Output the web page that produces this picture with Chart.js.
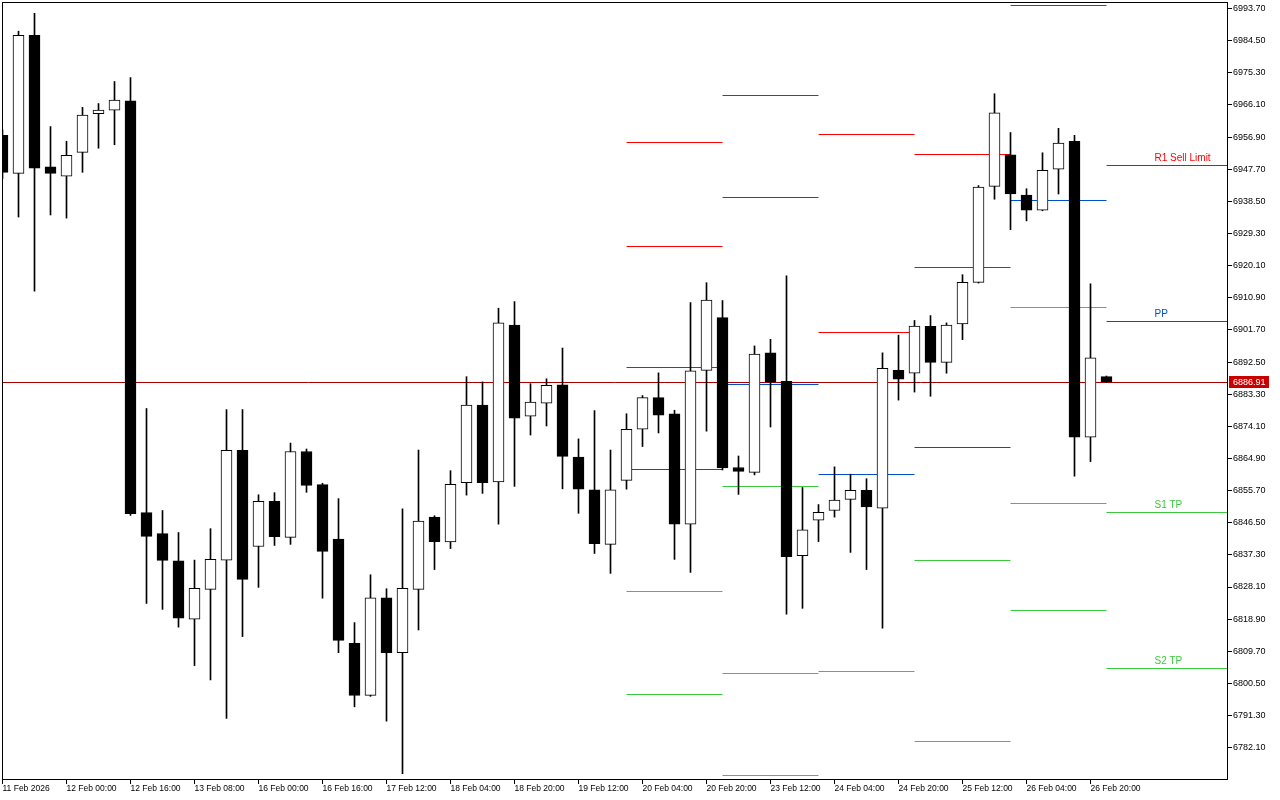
<!DOCTYPE html>
<html><head><meta charset="utf-8">
<script src="https://cdn.jsdelivr.net/npm/chart.js@4.4.1/dist/chart.umd.min.js"></script>
<style>html,body{margin:0;padding:0;background:#fff;overflow:hidden}#wrap{width:1280px;height:800px}</style>
</head><body><div id="wrap"><canvas id="c" width="1280" height="800"></canvas></div>
<script>
// ---- data ----
const xLabels = ['11 Feb 2026','12 Feb 00:00','12 Feb 16:00','13 Feb 08:00','16 Feb 00:00','16 Feb 16:00','17 Feb 12:00','18 Feb 04:00','18 Feb 20:00','19 Feb 12:00','20 Feb 04:00','20 Feb 20:00','23 Feb 12:00','24 Feb 04:00','24 Feb 20:00','25 Feb 12:00','26 Feb 04:00','26 Feb 20:00'];
const yTicks = [6782.10,6791.30,6800.50,6809.70,6818.90,6828.10,6837.30,6846.50,6855.70,6864.90,6874.10,6883.30,6892.50,6901.70,6910.90,6920.10,6929.30,6938.50,6947.70,6956.90,6966.10,6975.30,6984.50,6993.70];
const opens  = [6957.4,6946.5,6986.0,6948.4,6945.7,6952.5,6963.6,6964.6,6967.3,6849.4,6843.4,6835.6,6818.9,6827.4,6835.8,6867.2,6839.7,6852.6,6842.3,6866.9,6857.4,6841.8,6812.0,6797.1,6825.0,6809.3,6827.4,6848.1,6841.0,6858.0,6880.2,6858.2,6903.1,6877.0,6880.7,6886.0,6865.3,6855.9,6840.3,6858.6,6873.3,6882.3,6877.7,6846.1,6890.1,6905.2,6862.3,6860.9,6895.1,6887.0,6837.1,6847.2,6850.0,6853.2,6855.8,6850.7,6890.1,6889.3,6902.7,6892.4,6903.4,6915.3,6942.8,6951.8,6940.3,6936.0,6947.7,6955.7,6871.0,6888.3];
const highs  = [6959.0,6987.2,6992.3,6959.9,6955.7,6965.4,6966.5,6972.8,6973.9,6879.2,6850.0,6843.7,6835.8,6844.8,6878.9,6878.9,6854.5,6855.1,6869.3,6867.6,6857.8,6853.4,6817.9,6831.6,6827.6,6850.5,6867.3,6848.5,6861.4,6888.3,6886.8,6907.9,6909.8,6886.3,6887.7,6896.5,6870.5,6878.6,6867.3,6877.7,6882.9,6889.4,6878.7,6909.5,6915.2,6910.1,6865.6,6897.1,6899.0,6917.2,6856.6,6851.7,6862.5,6860.4,6859.1,6895.1,6900.2,6904.4,6905.8,6903.7,6917.5,6943.0,6969.3,6958.2,6942.1,6952.4,6959.4,6957.4,6914.9,6888.5];
const lows   = [6945.0,6934.0,6912.8,6934.6,6933.7,6946.8,6953.7,6954.7,6848.6,6823.4,6821.7,6816.6,6805.6,6801.5,6790.5,6813.9,6828.0,6840.0,6840.3,6855.2,6824.9,6809.3,6793.8,6796.8,6789.7,6774.7,6815.8,6833.1,6839.1,6854.4,6854.9,6846.1,6856.9,6871.6,6874.2,6856.2,6849.2,6837.7,6832.0,6856.1,6868.3,6872.2,6836.0,6832.3,6872.7,6861.6,6854.6,6860.2,6873.9,6820.3,6822.0,6841.1,6848.1,6838.0,6833.1,6816.3,6881.6,6883.9,6882.7,6889.3,6898.9,6915.1,6939.1,6930.4,6932.9,6935.8,6940.6,6859.8,6864.0,6886.6];
const closes = [6946.8,6986.0,6948.0,6946.5,6951.7,6963.2,6964.6,6967.5,6849.1,6842.6,6835.7,6819.2,6827.7,6836.0,6867.2,6830.3,6852.6,6842.5,6866.9,6857.2,6838.3,6812.8,6797.1,6825.0,6809.3,6827.7,6847.0,6841.1,6857.5,6880.2,6858.0,6903.7,6876.4,6881.0,6885.8,6865.5,6856.1,6840.5,6855.9,6873.2,6882.3,6877.3,6846.1,6890.0,6910.2,6862.2,6861.2,6894.8,6886.7,6836.8,6844.5,6849.5,6853.0,6855.8,6851.0,6890.7,6887.6,6902.8,6892.4,6903.1,6915.3,6942.6,6963.8,6940.6,6936.0,6947.4,6955.2,6871.0,6893.7,6886.91];
// daily pivot levels (segments start/end at candle index)
const daySegStart = [39,45,51,57,63,69];
const daySegEnd   = [45,51,57,63,69,77];
const rLevels  = [[6955.4,6925.7,6890.8],[6968.8,6939.6],[6957.7,6901.0],[6951.9,6919.6],[6994.6],[6948.7]];
const ppLevels = [6861.6,6886.0,6860.4,6868.0,6938.7,6904.2];
const sLevels  = [[6826.7,6797.2],[6856.8,6803.2,6774.0],[6803.9],[6835.7,6783.8],[6908.1,6851.9,6821.3],[6849.4,6804.9]];
const levelLabels = ['R1 Sell Limit','PP','S1 TP','S2 TP'];

// ---- styles ----
const RED='#ff0000', BLUE='#0050cc', GREEN='#3cc83c';
const YFONT = {family:"'Liberation Sans',sans-serif", size:9};
const XFONT = {family:"'Liberation Sans',sans-serif", size:8.5};
const X_MIN = -0.03125, X_MAX = 76.53125, Y_MIN = 6773.14, Y_MAX = 6995.56;

const idx = opens.map((_,i)=>i);
const bull = idx.map(i => closes[i] > opens[i]);

const datasets = [];
datasets.push({
  type:'bar', label:'body', order:0, grouped:false,
  data: idx.map(i => ({x:i, y:[opens[i], closes[i]]})),
  backgroundColor: idx.map(i => bull[i] ? '#ffffff' : '#000000'),
  borderColor:'#000000', borderWidth:1, borderSkipped:false, barThickness:11
});
datasets.push({
  type:'bar', label:'wick', order:1, grouped:false,
  data: idx.map(i => ({x:i, y:[lows[i], highs[i]]})),
  backgroundColor:'#000000', borderWidth:0, barThickness:1
});
function seg(s, e, v, color){
  datasets.push({type:'line', order:2, level:true, data:[{x:s,y:v},{x:e,y:v}], borderColor:color, borderWidth:1, pointRadius:0, fill:false, tension:0});
}
daySegStart.forEach((s,d) => {
  const e = daySegEnd[d];
  rLevels[d].forEach(v => seg(s,e,v,RED));
  seg(s,e,ppLevels[d],BLUE);
  sLevels[d].forEach(v => seg(s,e,v,GREEN));
});

// snap the 1px horizontal level lines onto the pixel grid (render-only)
const crispPlugin = {
  id:'crisp',
  beforeDatasetDraw(chart, args){
    const ds = chart.data.datasets[args.index];
    chart.ctx.save();
    if (ds.level) {
      const y = chart.scales.y.getPixelForValue(ds.data[0].y);
      chart.ctx.translate(0, Math.round(y - 0.5) + 0.5 - y);
    }
  },
  afterDatasetDraw(chart){ chart.ctx.restore(); }
};

const framePlugin = {
  id:'frame',
  beforeDatasetsDraw(chart){
    const {ctx, chartArea:a, scales} = chart;
    const last = closes[closes.length-1];
    const y = Math.round(scales.y.getPixelForValue(last)) + 0.5;
    ctx.save();
    ctx.strokeStyle = '#a80000'; ctx.lineWidth = 1;
    ctx.beginPath(); ctx.moveTo(a.left, y); ctx.lineTo(a.right, y); ctx.stroke();
    ctx.restore();
  },
  afterDraw(chart){
    const {ctx, chartArea:a, scales} = chart;
    ctx.save();
    ctx.strokeStyle = '#000'; ctx.lineWidth = 1;
    ctx.strokeRect(a.left + 0.5, a.top + 0.5, a.right - a.left, a.bottom - a.top);
    // level labels on the last day
    const d = daySegStart.length - 1;
    const vals = [rLevels[d][0], ppLevels[d], sLevels[d][0], sLevels[d][1]];
    const cols = [RED, BLUE, GREEN, GREEN];
    ctx.font = "10px 'Liberation Sans', sans-serif";
    ctx.textAlign = 'left'; ctx.textBaseline = 'bottom';
    const lx = scales.x.getPixelForValue(daySegStart[d] + 3);
    vals.forEach((v,k) => {
      ctx.fillStyle = cols[k];
      ctx.fillText(levelLabels[k], lx, scales.y.getPixelForValue(v) - 2);
    });
    // current price box
    const last = closes[closes.length-1];
    const py = Math.round(scales.y.getPixelForValue(last));
    ctx.fillStyle = '#c80000';
    ctx.fillRect(a.right + 2, py - 6, 40, 12);
    ctx.fillStyle = '#ffffff';
    ctx.font = YFONT.size + "px " + YFONT.family;
    ctx.textBaseline = 'middle';
    ctx.fillText(last.toFixed(2), a.right + 6, py + 0.5);
    ctx.restore();
  }
};

new Chart(document.getElementById('c'), {
  data:{datasets},
  options:{
    responsive:false, animation:false, devicePixelRatio:1,
    layout:{padding:{left:2, top:2, right:0, bottom:0}},
    plugins:{legend:{display:false}, tooltip:{enabled:false}},
    scales:{
      x:{
        type:'linear', position:'bottom', min:X_MIN, max:X_MAX, offset:false,
        afterBuildTicks: s => { s.ticks = xLabels.map((_,k)=>({value:k*4})); },
        afterFit: s => { s.height = 21; s.paddingLeft = 0; s.paddingRight = 0; },
        grid:{drawOnChartArea:false, drawTicks:true, tickLength:5, tickColor:'#000', color:'#000', offset:false},
        border:{display:true, color:'#000', width:1},
        ticks:{autoSkip:false, maxRotation:0, minRotation:0, align:'start', padding:0, color:'#000', font:XFONT,
          callback:(v,i)=> xLabels[i] ?? ''}
      },
      y:{
        type:'linear', position:'right', min:Y_MIN, max:Y_MAX,
        afterBuildTicks: s => { s.ticks = yTicks.map(v=>({value:v})); },
        afterFit: s => { s.width = 53; s.paddingTop = 0; s.paddingBottom = 0; },
        grid:{drawOnChartArea:false, drawTicks:true, tickLength:5, tickColor:'#000', color:'#000'},
        border:{display:true, color:'#000', width:1},
        ticks:{autoSkip:false, padding:1, color:'#000', font:YFONT, callback:v=>Number(v).toFixed(2)}
      }
    }
  },
  plugins:[crispPlugin, framePlugin]
});
</script></body></html>
